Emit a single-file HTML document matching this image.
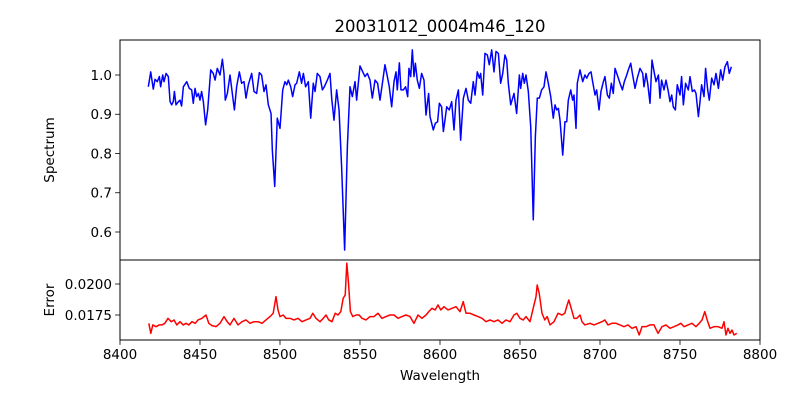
<!DOCTYPE html>
<html><head><meta charset="utf-8"><style>
html,body{margin:0;padding:0;background:#fff;}
svg{display:block;font-family:"DejaVu Sans","Liberation Sans",sans-serif;}
</style></head><body>
<svg id="chart" width="800" height="400" viewBox="0 0 800 400" xmlns="http://www.w3.org/2000/svg">
<rect x="0" y="0" width="800" height="400" fill="#fff"/>
<text x="440" y="32" font-size="16.5" text-anchor="middle">20031012_0004m46_120</text>
<g id="topPanel"></g>
<g id="botPanel"></g>
<text transform="translate(54,150) rotate(-90)" font-size="13.5" text-anchor="middle">Spectrum</text>
<text transform="translate(54,300) rotate(-90)" font-size="13.5" text-anchor="middle">Error</text>
<text x="440" y="380" font-size="13.5" text-anchor="middle">Wavelength</text>
</svg>
<script>
const specWave=[8417.7,8419.2,8420.8,8421.9,8423.3,8424.6,8425.4,8426.7,8427.5,8428.8,8430.2,8431.3,8432.3,8433.3,8434.0,8435.0,8436.5,8437.5,8438.5,8439.6,8441.7,8443.3,8444.8,8445.8,8446.9,8447.9,8449.0,8450.0,8451.0,8452.1,8453.5,8454.8,8456.7,8458.3,8459.4,8460.8,8462.5,8464.0,8465.0,8465.8,8467.1,8468.75,8470.2,8471.5,8472.9,8474.6,8476.0,8477.5,8478.75,8480.2,8482.3,8483.75,8485.4,8487.1,8488.5,8490.0,8491.25,8492.7,8494.4,8495.2,8496.7,8498.3,8500.0,8501.7,8503.1,8504.2,8505.2,8506.7,8507.9,8509.4,8510.4,8512.1,8513.5,8514.6,8516.0,8517.7,8519.2,8520.8,8521.9,8523.3,8525.0,8526.5,8527.7,8529.6,8531.25,8532.3,8533.75,8535.4,8536.9,8538.5,8540.4,8542.1,8543.75,8545.2,8546.9,8547.9,8550.0,8551.7,8553.1,8554.6,8556.25,8557.7,8559.4,8561.0,8562.5,8564.0,8565.6,8567.1,8568.3,8569.8,8571.25,8572.5,8573.3,8574.6,8575.6,8577.1,8578.5,8579.8,8580.6,8581.7,8582.7,8583.75,8584.6,8585.8,8587.1,8588.5,8590.0,8591.25,8592.1,8592.9,8593.75,8594.8,8595.8,8597.1,8598.5,8599.6,8601.0,8602.1,8603.1,8604.2,8605.8,8607.3,8608.75,8610.0,8611.5,8612.9,8614.6,8616.25,8617.7,8619.2,8620.8,8621.9,8623.3,8624.6,8625.4,8626.7,8628.1,8629.6,8630.8,8632.3,8633.75,8635.0,8636.5,8637.9,8639.2,8640.6,8641.7,8642.7,8644.2,8646.25,8647.9,8649.6,8650.4,8651.7,8652.7,8653.75,8655.2,8656.7,8658.3,8659.6,8660.8,8662.1,8663.5,8665.0,8666.25,8667.7,8669.2,8670.8,8671.9,8672.9,8674.0,8675.0,8676.7,8678.1,8679.2,8680.2,8681.7,8682.9,8683.75,8685.0,8685.8,8687.5,8689.2,8690.6,8691.7,8693.1,8694.4,8695.4,8696.9,8697.9,8699.4,8700.6,8702.1,8703.1,8704.6,8705.8,8707.1,8708.3,8709.4,8710.8,8712.5,8714.0,8715.2,8716.7,8717.7,8719.2,8720.4,8721.9,8723.3,8725.0,8726.7,8727.5,8728.75,8729.8,8731.25,8732.5,8734.0,8735.0,8736.5,8737.5,8738.5,8740.0,8741.25,8742.7,8743.75,8744.8,8745.8,8747.1,8748.3,8750.0,8751.0,8752.1,8753.5,8755.2,8756.25,8757.7,8759.0,8760.0,8761.5,8762.5,8763.5,8765.0,8766.0,8767.3,8768.3,8769.8,8771.25,8772.5,8774.0,8775.4,8776.7,8778.1,8779.6,8780.8,8782.1];
const specFlux=[0.970,1.008,0.964,0.989,0.983,0.996,0.970,1.000,0.983,1.004,0.996,0.932,0.924,0.932,0.958,0.924,0.932,0.936,0.921,0.970,0.983,0.966,0.962,0.928,0.966,0.945,0.953,0.936,0.958,0.932,0.873,0.911,1.013,1.004,0.987,1.017,1.000,1.040,1.004,0.936,0.953,1.000,0.953,0.911,0.970,1.008,0.979,0.983,0.941,0.975,1.004,0.958,0.953,1.006,1.000,0.958,0.975,0.924,0.902,0.809,0.716,0.890,0.864,0.962,0.983,0.975,0.987,0.970,0.945,0.975,0.979,1.008,0.979,1.004,0.970,0.983,0.890,0.979,0.958,1.004,0.996,0.962,0.970,0.987,1.004,0.941,0.885,0.962,0.911,0.767,0.554,0.817,0.970,0.945,0.983,0.936,1.023,1.008,0.996,1.004,0.987,0.941,0.987,0.979,0.936,0.979,1.026,0.996,0.970,0.919,0.983,1.008,0.962,1.031,0.962,0.962,0.970,0.945,1.017,0.996,1.064,0.996,1.030,0.987,0.966,1.004,0.987,0.898,0.928,0.953,0.894,0.877,0.860,0.877,0.881,0.928,0.919,0.856,0.885,0.919,0.911,0.932,0.860,0.936,0.962,0.834,0.941,0.966,0.936,0.928,0.983,0.949,1.008,0.992,1.004,0.949,1.055,1.051,1.026,1.064,1.008,1.060,1.055,0.979,1.004,1.051,1.038,0.979,0.924,0.953,0.902,1.000,0.966,1.004,0.979,1.000,0.958,0.868,0.631,0.843,0.941,0.941,0.962,0.970,1.008,0.979,0.945,0.890,0.924,0.911,0.915,0.885,0.796,0.881,0.881,0.936,0.962,0.936,0.949,0.864,0.979,1.013,0.983,1.000,0.992,1.004,1.008,0.983,0.949,0.962,0.911,0.958,0.983,0.996,0.949,0.941,0.979,0.953,1.017,1.000,0.979,0.962,0.983,1.000,1.013,1.030,1.000,0.966,0.992,1.017,1.004,0.970,1.004,0.979,0.928,1.038,1.004,0.983,1.000,0.941,0.987,0.962,0.987,0.958,0.932,0.949,0.919,0.911,0.975,0.949,0.996,0.924,0.979,0.962,0.996,0.958,0.962,0.953,0.894,0.932,0.975,0.945,1.017,0.962,0.936,0.992,0.975,1.004,0.966,1.013,0.987,1.021,1.034,1.004,1.021];
const errWave=[8418.0,8419.25,8420.5,8422.5,8424.5,8426.25,8428,8430,8432,8433.75,8435.5,8437.5,8439.5,8441.25,8443,8445,8447,8448.75,8451.25,8453.75,8455.5,8457.5,8460,8462.5,8465,8467,8468.75,8471.25,8473.75,8476.25,8478.75,8481.25,8483.75,8486.25,8488.75,8491.25,8493.75,8495.75,8497.5,8498.75,8500,8502,8503.75,8506.25,8508.75,8511.25,8513.75,8516.25,8518.75,8520.5,8522.5,8525,8527,8528.75,8530.5,8532.5,8534.5,8536.25,8538,8539.5,8540.75,8541.75,8542.75,8544,8545.5,8547.5,8549.5,8551.25,8553.75,8556.25,8558.75,8561.25,8563.75,8566.25,8568.75,8571.25,8573.75,8576.25,8578.75,8581.25,8583.75,8586.25,8588.75,8591.25,8593,8595,8597,8598.75,8600.5,8602.5,8605,8607.5,8610,8612.5,8614.5,8616.25,8618.75,8621.25,8623.75,8626.25,8628.75,8631.25,8633.75,8636.25,8638.75,8641.25,8643.75,8646.25,8648,8650,8652,8653.75,8656.25,8658.75,8660,8660.75,8662,8663.75,8665.5,8667,8668.75,8671.25,8673.75,8676.25,8678,8679.5,8680.5,8682,8683.75,8685.5,8687.5,8688.75,8690.5,8693.75,8696.25,8698.75,8701.25,8703,8705,8707.5,8710,8712.5,8715,8717.5,8720,8722.5,8724.5,8726.25,8728.75,8731.25,8733.75,8736.25,8738.75,8741.25,8743.75,8746.25,8748.75,8750.5,8752.5,8755,8757.5,8760,8762,8763.75,8765.5,8767,8768.75,8771.25,8773.75,8776.25,8777.5,8778.75,8780,8781.25,8782.5,8783.75,8785.5];
const errVal=[0.01683,0.01602,0.01670,0.01656,0.01670,0.01670,0.01683,0.01723,0.01696,0.01710,0.01670,0.01696,0.01670,0.01683,0.01670,0.01696,0.01683,0.01710,0.01723,0.01750,0.01683,0.01664,0.01656,0.01683,0.01737,0.01696,0.01670,0.01723,0.01670,0.01696,0.01710,0.01683,0.01696,0.01696,0.01683,0.01710,0.01737,0.01764,0.01898,0.01791,0.01737,0.01750,0.01723,0.01723,0.01710,0.01723,0.01696,0.01710,0.01723,0.01764,0.01723,0.01696,0.01723,0.01750,0.01710,0.01696,0.01764,0.01750,0.01777,0.01885,0.01911,0.02167,0.02019,0.01777,0.01737,0.01750,0.01750,0.01723,0.01710,0.01737,0.01737,0.01764,0.01723,0.01737,0.01750,0.01750,0.01723,0.01737,0.01750,0.01737,0.01683,0.01750,0.01723,0.01750,0.01777,0.01804,0.01791,0.01831,0.01791,0.01817,0.01791,0.01804,0.01817,0.01777,0.01858,0.01764,0.01764,0.01750,0.01737,0.01723,0.01696,0.01710,0.01696,0.01710,0.01683,0.01710,0.01696,0.01750,0.01764,0.01723,0.01710,0.01737,0.01696,0.01831,0.01898,0.01992,0.01925,0.01764,0.01710,0.01737,0.01670,0.01696,0.01764,0.01750,0.01764,0.01831,0.01871,0.01804,0.01723,0.01723,0.01750,0.01696,0.01670,0.01683,0.01670,0.01683,0.01696,0.01710,0.01670,0.01683,0.01683,0.01670,0.01656,0.01670,0.01643,0.01656,0.01589,0.01656,0.01656,0.01670,0.01670,0.01602,0.01656,0.01670,0.01643,0.01656,0.01670,0.01683,0.01656,0.01670,0.01683,0.01656,0.01683,0.01710,0.01777,0.01710,0.01643,0.01656,0.01656,0.01643,0.01696,0.01589,0.01643,0.01602,0.01629,0.01589,0.01602];
const xTicks=[8400,8450,8500,8550,8600,8650,8700,8750,8800];
const topTicks=[0.6,0.7,0.8,0.9,1.0];
const topTickLabels=["0.6","0.7","0.8","0.9","1.0"];
const botTicks=[0.0175,0.0200];
const botTickLabels=["0.0175","0.0200"];

const NS="http://www.w3.org/2000/svg";
const X0=120,X1=760,TT=40,TB=260,BT=260,BB=340;
const xs=w=>X0+(w-8400)*(X1-X0)/400;
const yTop=f=>75+(1.0-f)*392.5;
const yBot=v=>284+(0.0200-v)*12400;
function mk(tag,attrs,parent){const e=document.createElementNS(NS,tag);for(const k in attrs)e.setAttribute(k,attrs[k]);parent.appendChild(e);return e;}
const gTop=document.getElementById('topPanel'),gBot=document.getElementById('botPanel');

let d=specWave.map((w,i)=>(i?'L':'M')+xs(w).toFixed(2)+','+yTop(specFlux[i]).toFixed(2)).join('');
const sp=mk('path',{d:d,fill:'none',stroke:'#0000ff','stroke-width':1.5,'stroke-linejoin':'round'},gTop);


d=errWave.map((w,i)=>(i?'L':'M')+xs(w).toFixed(2)+','+yBot(errVal[i]).toFixed(2)).join('');
const ep=mk('path',{d:d,fill:'none',stroke:'#ff0000','stroke-width':1.5,'stroke-linejoin':'round'},gBot);



const f1=mk('rect',{x:X0,y:TT,width:X1-X0,height:TB-TT,fill:'none',stroke:'#000','stroke-width':1},gTop);


const f2=mk('rect',{x:X0,y:BT,width:X1-X0,height:BB-BT,fill:'none',stroke:'#000','stroke-width':1},gBot);



topTicks.forEach((t,i)=>{const y=yTop(t);
 const l=mk('line',{x1:X0-4.9,x2:X0,y1:y,y2:y,stroke:'#000','stroke-width':0.8},gTop);
 
 
 const tx=mk('text',{x:X0-8,y:y+4.8,'font-size':13.5,'text-anchor':'end'},gTop);tx.textContent=topTickLabels[i];
 
 });
botTicks.forEach((t,i)=>{const y=yBot(t);
 const l=mk('line',{x1:X0-4.9,x2:X0,y1:y,y2:y,stroke:'#000','stroke-width':0.8},gBot);
 
 
 const tx=mk('text',{x:X0-8,y:y+4.8,'font-size':13.5,'text-anchor':'end'},gBot);tx.textContent=botTickLabels[i];
 
 });
xTicks.forEach(t=>{const x=xs(t);
 const l=mk('line',{x1:x,x2:x,y1:BB,y2:BB+4.9,stroke:'#000','stroke-width':0.8},gBot);
 
 
 const tx=mk('text',{x:x,y:BB+19,'font-size':13.5,'text-anchor':'middle'},gBot);tx.textContent=String(t);
 
 });
</script>
</body></html>
